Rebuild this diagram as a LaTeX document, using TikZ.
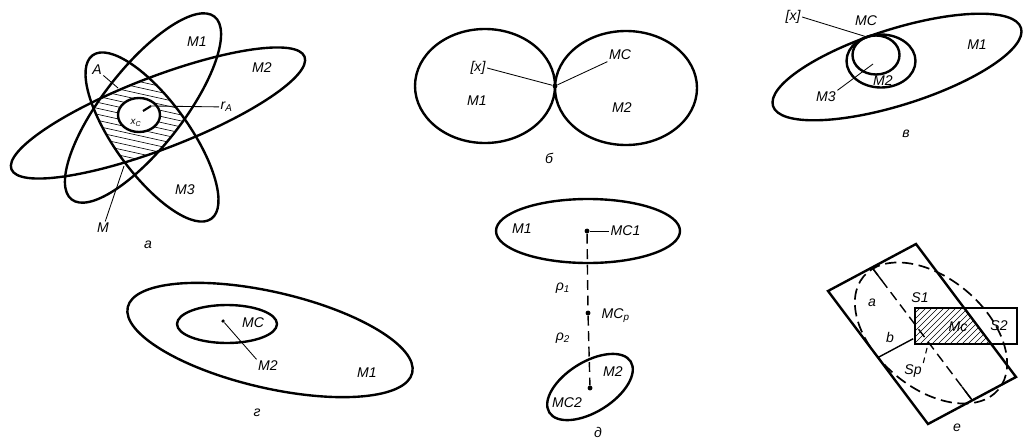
\documentclass[tikz,border=0pt]{standalone}
\usepackage{fontspec}
\setmainfont{Liberation Sans}
\usetikzlibrary{positioning,calc}

\tikzset{
  contour/.style={line width=1.7pt},
  leader/.style={line width=0.6pt},
  hatch/.style={line width=0.45pt},
  axisline/.style={line width=1pt, dash pattern=on 7pt off 4pt},
  lbl/.style={font=\itshape, inner sep=1pt},
  small lbl/.style={font=\itshape\scriptsize, inner sep=0.5pt},
  capt/.style={font=\itshape, inner sep=1pt},
  dotpt/.style={circle, fill, inner sep=0pt, minimum size=3.5pt}
}

\begin{document}
\begin{tikzpicture}[x=0.25mm,y=-0.25mm]
\useasboundingbox (0,0) rectangle (1025,443);

% --- a ---
\begin{scope}
\clip (143,108) ellipse [x radius=116, y radius=40, rotate=52];
\clip (158,113) ellipse [x radius=157, y radius=36, rotate=21];
\clip (152,137) ellipse [x radius=101, y radius=37, rotate=-54];
\foreach \k in {10,16,...,200}
  \draw[hatch] (60,\k) -- (240,\k+40);
\end{scope}
\fill[white] (139,115) ellipse [x radius=21, y radius=17];
\draw[contour] (139,115) ellipse [x radius=21, y radius=17];
\draw[contour] (143,108) ellipse [x radius=116, y radius=40, rotate=52];
\draw[contour] (158,113) ellipse [x radius=157, y radius=36, rotate=21];
\draw[contour] (152,137) ellipse [x radius=101, y radius=37, rotate=-54];
\coordinate (aC) at (143,111);
\coordinate (aR) at (151,106);
\coordinate (aA) at (118,88);
\coordinate (aM) at (124,166);
\node[lbl] (aM1) at (197,42) {M1};
\node[lbl] (aM2) at (262,68) {M2};
\node[lbl] (aM3) at (185,190) {M3};
\node[lbl] (aLA) at (97,70) {A};
\node[lbl] (aLM) at (103,228) {M};
\node[lbl, anchor=west] (arA) at (219,107) {r\textsubscript{A}};
\node[small lbl] (axC) at (136,123) {x\textsubscript{C}};
\draw[line width=1.5pt] (aC) -- (aR);
\draw[leader] (aR) -- (arA);
\draw[leader] (aLA) -- (aA);
\draw[leader] (aLM) -- (aM);
\node[capt] (capA) at (148,245) {а};

% --- b ---
\draw[contour] (485,86) ellipse [x radius=70, y radius=57];
\draw[contour] (626,88) ellipse [x radius=71, y radius=57];
\node[dotpt] (bT) at (555,86) {};
\node[lbl] (bX) at (478,68) {[x]};
\node[lbl] (bMC) at (620,55) {MC};
\node[lbl] (bM1) at (477,101) {M1};
\node[lbl] (bM2) at (622,108) {M2};
\draw[leader] (bX.east) -- (bT);
\draw[leader] (bMC.south west) -- (bT);
\node[capt] (capB) at (549,158) {б};

% --- v ---
\draw[contour] (897,67) ellipse [x radius=130, y radius=38, rotate=17.5];
\draw[contour] (881,61) ellipse [x radius=34.5, y radius=26.5];
\draw[contour] (876,55) ellipse [x radius=23.5, y radius=19.5];
\coordinate (vP) at (867,37);
\coordinate (vIn) at (873,64);
\node[lbl] (vX) at (793,17) {[x]};
\node[lbl] (vMC) at (866,21) {MC};
\node[lbl] (vM1) at (977,45) {M1};
\node[lbl] (vM2) at (883,81) {M2};
\node[lbl] (vM3) at (826,97) {M3};
\draw[leader] (vX.east) -- (vP);
\draw[leader] (vM3.north east) -- (vIn);
\node[capt] (capV) at (906,134) {в};

% --- g ---
\draw[contour] (270,340) ellipse [x radius=146, y radius=48, rotate=-13];
\draw[contour] (227,324) ellipse [x radius=50, y radius=19];
\node[dotpt, minimum size=2.5pt] (gC) at (223,321) {};
\node[lbl] (gMC) at (253,323) {MC};
\node[lbl] (gM2) at (268,366) {M2};
\node[lbl] (gM1) at (367,373) {M1};
\draw[leader] (gC) -- (gM2.north west);
\node[capt] (capG) at (257,413) {г};

% --- d ---
\draw[contour] (588,231) ellipse [x radius=92, y radius=32];
\draw[contour] (590,387) ellipse [x radius=48, y radius=25, rotate=32];
\node[dotpt] (dC1) at (587,231) {};
\node[dotpt] (dCp) at (588,313) {};
\node[dotpt] (dC2) at (590,388) {};
\draw[axisline] (dC1) -- (dCp) -- (dC2);
\node[lbl] (dM1) at (522,229) {M1};
\node[lbl, anchor=west] (dMC1) at (609,231) {MC1};
\node[lbl, anchor=west] (dMCp) at (600,316) {MC\textsubscript{p}};
\node[lbl] (dr1) at (563,288) {ρ\textsubscript{1}};
\node[lbl] (dr2) at (563,338) {ρ\textsubscript{2}};
\node[lbl] (dM2) at (613,372) {M2};
\node[lbl] (dMC2) at (567,403) {MC2};
\draw[leader] (dC1) -- (dMC1);
\node[capt] (capD) at (598,432) {д};

% --- e ---
\coordinate (eL) at (828,291);
\coordinate (eT) at (916,244);
\coordinate (eR) at (1016,377);
\coordinate (eB) at (928,424);
\coordinate (eC) at (922,334);
\coordinate (eTop) at (872,267.5);
\coordinate (eBot) at (972,400);
\coordinate (eLeft) at (878,357.5);
\coordinate (eS) at (928,344);
\begin{scope}
\clip (eL) -- (eT) -- (eR) -- (eB) -- cycle;
\clip (915,308) rectangle (1017,344);
\foreach \k in {860,866,...,1020}
  \draw[hatch] (\k,350) -- (\k+50,300);
\end{scope}
\draw[axisline, line width=1.2pt, dash pattern=on 8pt off 4pt] (931,333) ellipse [x radius=88, y radius=55, rotate=-40];
\draw[contour] (eL) -- (eT) -- (eR) -- (eB) -- cycle;
\draw[contour] (915,308) rectangle (1017,344);
\draw[axisline] (eTop) -- (eBot);
\draw[line width=1pt] (eTop) -- ($(eTop)!0.1!(eBot)$);
\draw[line width=1pt] ($(eTop)!0.9!(eBot)$) -- (eBot);
\draw[line width=1pt] (eLeft) -- ($(eLeft)!0.8!(eC)$);
\node[lbl] (ea) at (872,303) {a};
\node[lbl] (eb) at (890,337) {b};
\node[lbl] (eS1) at (920,298) {S1};
\node[lbl] (eS2) at (999,326) {S2};
\node[lbl] (eMc) at (958,327) {Mc};
\node[lbl] (eSp) at (913,371) {Sp};
\draw[axisline, line width=0.8pt, dash pattern=on 4pt off 3pt] (eSp.north east) -- (eS);
\node[capt] (capE) at (957,428) {е};
\end{tikzpicture}
\end{document}
